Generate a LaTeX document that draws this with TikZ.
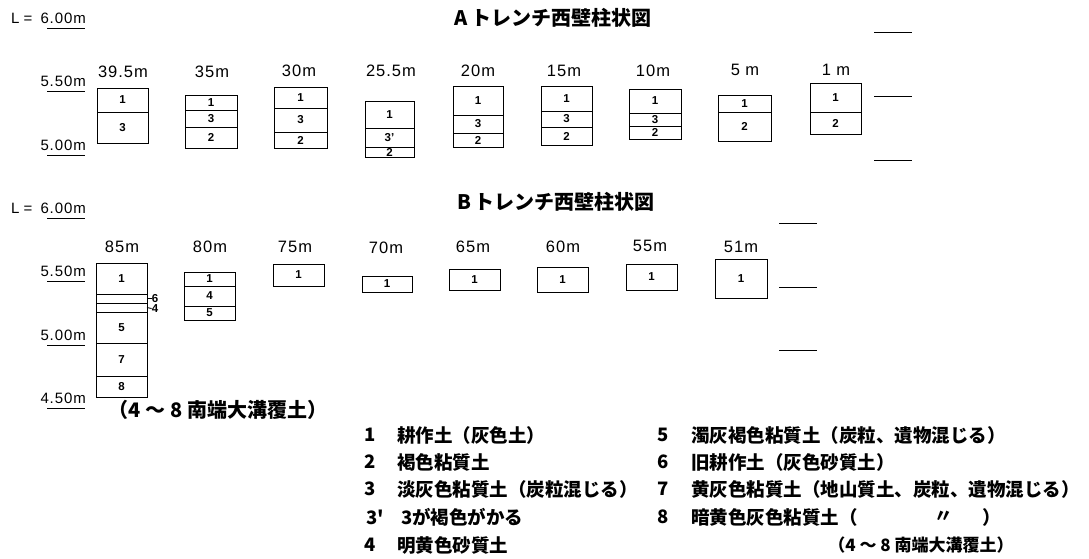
\documentclass[tikz,border=0pt]{standalone}
\usepackage{fontspec}
\setmainfont{Liberation Sans}
\newfontfamily\cjk{Noto Sans CJK JP}
\newfontfamily\spaced[LetterSpace=6]{Liberation Sans}
\tikzset{
 boxln/.style={line width=0.9pt},
 num/.style={font=\bfseries\fontsize{11.5}{12}\selectfont, inner sep=0pt},
 dep/.style={font=\spaced\fontsize{16.5}{17}\selectfont, inner sep=0pt, anchor=base},
 scl/.style={font=\spaced\fontsize{15}{15}\selectfont, inner sep=0pt, anchor=base east},
 ttl/.style={font=\cjk\bfseries\fontsize{20}{20}\selectfont, inner sep=0pt},
 leg/.style={font=\cjk\bfseries\fontsize{18.5}{19}\selectfont, inner sep=0pt, anchor=west},
 legn/.style={font=\cjk\bfseries\fontsize{18.5}{19}\selectfont, inner sep=0pt},
 tick/.style={line width=0.8pt},
}
\newcommand\band[6]{\draw[boxln] (#2,#4) rectangle (#3,#5); \node[num] (#1) at ({(#2+#3)/2},{(#4+#5)/2}) {#6};}
\newcommand\lvl[3]{\node[scl] (#1) at (86,#2-4.5) {#3}; \draw[tick] (47,#2) -- (85,#2);}
\begin{document}
\begin{tikzpicture}[x=1pt,y=-1pt]
\useasboundingbox (0,0) rectangle (1089,558);
% ---------- A trench ----------
\node[ttl] (ta) at (553,18) {A\,トレンチ西壁柱状図};
\node[scl, anchor=base west] (la6l) at (11,23) {L};
\node[scl, anchor=base] (la6e) at (28,23) {=};
\node[scl] (la6) at (86,23) {6.00m};
\draw[tick] (47,28) -- (85,28);
\lvl{la55}{91}{5.50m}
\lvl{la50}{155}{5.00m}
\draw[tick] (874,32) -- (912,32);
\draw[tick] (874,96) -- (912,96);
\draw[tick] (874,160) -- (912,160);
% depth labels
\node[dep] (d395) at (123,77) {39.5m};
\node[dep] (d35) at (212,77) {35m};
\node[dep] (d30) at (299,76) {30m};
\node[dep] (d255) at (391,76) {25.5m};
\node[dep] (d20) at (478,76) {20m};
\node[dep] (d15) at (564,76) {15m};
\node[dep] (d10) at (653,76) {10m};
\node[dep] (d5) at (745,75) {5 m};
\node[dep] (d1) at (836,75) {1 m};
% columns
\band{a1a}{97}{148}{88}{112}{1}
\band{a1b}{97}{148}{112}{143}{3}
\band{a2a}{185}{237}{95}{110}{1}
\band{a2b}{185}{237}{110}{127}{3}
\band{a2c}{185}{237}{127}{148}{2}
\band{a3a}{274}{327}{87}{108}{1}
\band{a3b}{274}{327}{108}{132}{3}
\band{a3c}{274}{327}{132}{148}{2}
\band{a4a}{365}{414}{101}{128}{1}
\band{a4b}{365}{414}{128}{147}{3'}
\band{a4c}{365}{414}{147}{157}{2}
\band{a5a}{453}{503}{86}{115}{1}
\band{a5b}{453}{503}{115}{133}{3}
\band{a5c}{453}{503}{133}{147}{2}
\band{a6a}{541}{592}{86}{111}{1}
\band{a6b}{541}{592}{111}{127}{3}
\band{a6c}{541}{592}{127}{145}{2}
\band{a7a}{629}{681}{89}{113}{1}
\band{a7b}{629}{681}{113}{126}{3}
\band{a7c}{629}{681}{126}{139}{2}
\band{a8a}{718}{771}{95}{112}{1}
\band{a8b}{718}{771}{112}{141}{2}
\band{a9a}{810}{861}{83}{112}{1}
\band{a9b}{810}{861}{112}{134}{2}
% ---------- B trench ----------
\node[ttl] (tb) at (556,202) {B\,トレンチ西壁柱状図};
\node[scl, anchor=base west] (lb6l) at (11,213) {L};
\node[scl, anchor=base] (lb6e) at (28,213) {=};
\node[scl] (lb6) at (86,213) {6.00m};
\draw[tick] (47,218) -- (85,218);
\lvl{lb55}{281}{5.50m}
\lvl{lb50}{345}{5.00m}
\lvl{lb45}{408}{4.50m}
\draw[tick] (779,223) -- (817,223);
\draw[tick] (779,287) -- (817,287);
\draw[tick] (779,350) -- (817,350);
\node[dep] (e85) at (122,252) {85m};
\node[dep] (e80) at (210,252) {80m};
\node[dep] (e75) at (295,252) {75m};
\node[dep] (e70) at (386,253) {70m};
\node[dep] (e65) at (473,252) {65m};
\node[dep] (e60) at (563,252) {60m};
\node[dep] (e55) at (650,251) {55m};
\node[dep] (e51) at (741,252) {51m};
\band{b1a}{96}{147}{263}{294}{1}
\band{b1b}{96}{147}{294}{303}{}
\band{b1c}{96}{147}{303}{312}{}
\band{b1d}{96}{147}{312}{343}{5}
\band{b1e}{96}{147}{343}{376}{7}
\band{b1f}{96}{147}{376}{397}{8}
\node[num] (b6) at (155,298.5) {6};
\node[num] (b4) at (155,308.5) {4};
\draw[boxln] (b1b.center -| 147,0) -- (b6.west);
\draw[boxln] (b1c.center -| 147,0) -- (b4.west);
\band{b2a}{184}{235}{272}{286}{1}
\band{b2b}{184}{235}{286}{306}{4}
\band{b2c}{184}{235}{306}{320}{5}
\band{b3}{273}{324}{264}{286}{1}
\band{b4}{362}{412}{276}{292}{1}
\band{b5}{449}{500}{269}{290}{1}
\band{b6b}{537}{588}{267}{292}{1}
\band{b7}{626}{677}{264}{290}{1}
\band{b8}{715}{767}{259}{298}{1}
\node[font=\cjk\bfseries\fontsize{20}{20}\selectfont, inner sep=0pt] (note) at (218,410) {（4 ～ 8 南端大溝覆土）};
% ---------- legend ----------
\node[legn] (n1) at (370,435) {1};
\node[leg] (t1) at (397,435) {耕作土（灰色土）};
\node[legn] (n2) at (370,462) {2};
\node[leg] (t2) at (397,462) {褐色粘質土};
\node[legn] (n3) at (370,489) {3};
\node[leg] (t3) at (397,489) {淡灰色粘質土（炭粒混じる）};
\node[legn] (n3p) at (375,517) {3'};
\node[leg] (t3p) at (401,517) {3が褐色がかる};
\node[legn] (n4) at (370,545) {4};
\node[leg] (t4) at (397,545) {明黄色砂質土};
\node[legn] (n5) at (663,435) {5};
\node[leg] (t5) at (691,435) {濁灰褐色粘質土（炭粒、遺物混じる）};
\node[legn] (n6) at (663,462) {6};
\node[leg] (t6) at (691,462) {旧耕作土（灰色砂質土）};
\node[legn] (n7) at (663,489) {7};
\node[leg] (t7) at (691,489) {黄灰色粘質土（地山質土、炭粒、遺物混じる）};
\node[legn] (n8) at (663,517) {8};
\node[leg] (t8) at (691,517) {暗黄色灰色粘質土（};
\node[legn] (t8b) at (944,517) {〃};
\node[legn] (t8c) at (992,517) {）};
\node[font=\cjk\bfseries\fontsize{17}{17}\selectfont, inner sep=0pt] (t8d) at (921,545) {（4 ～ 8 南端大溝覆土）};
\end{tikzpicture}
\end{document}
